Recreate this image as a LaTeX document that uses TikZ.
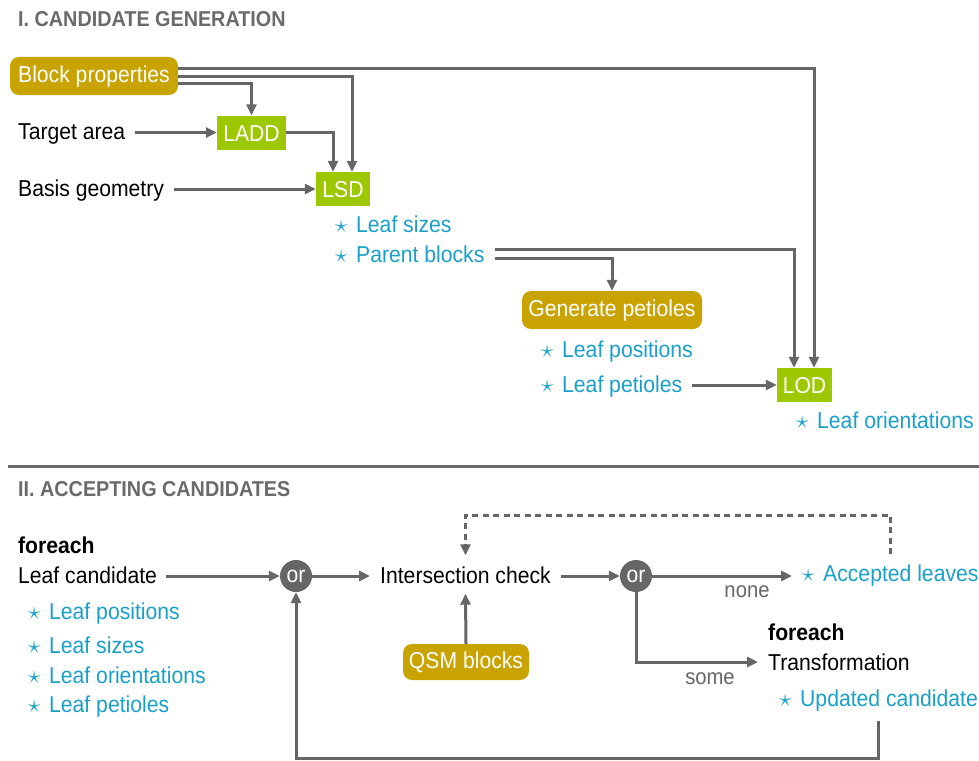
\documentclass[tikz,border=0pt]{standalone}
\usepackage{fontspec}
\setmainfont{Liberation Sans}[FakeStretch=0.92]
\usetikzlibrary{arrows.meta}
\definecolor{gold}{HTML}{C9A300}
\definecolor{lime}{HTML}{9DC700}
\definecolor{sky}{HTML}{1AA0C8}
\definecolor{ln}{HTML}{666666}
\definecolor{hd}{HTML}{6A6A6A}
\newcommand\mainfs{\fontsize{23}{26}\selectfont}
\newcommand\st{\makebox[21pt][l]{$\star$}}
\begin{document}
\begin{tikzpicture}[x=1pt,y=-1pt,
  txt/.style={anchor=west,inner sep=0pt,text height=17pt,text depth=0pt,font=\mainfs},
  item/.style={txt,text=sky},
  bold/.style={txt,font=\mainfs\bfseries},
  head/.style={anchor=west,inner sep=0pt,text height=16pt,text depth=0pt,font=\fontsize{21.5}{24}\selectfont\bfseries,text=hd},
  goldbox/.style={fill=gold,rounded corners=9pt,text=white,font=\mainfs,inner sep=0pt,text height=17pt,text depth=5pt,minimum height=38pt},
  greenbox/.style={fill=lime,text=white,font=\mainfs,inner sep=0pt,text height=17pt,text depth=0pt,minimum height=34pt},
  orc/.style={circle,fill=ln,text=white,minimum size=32pt,inner sep=0pt,font=\mainfs},
  lbl/.style={anchor=base,inner sep=0pt,text=ln,font=\fontsize{22}{24}\selectfont},
  arr/.style={draw=ln,line width=3pt,-{Triangle[length=11pt,width=10pt]}},
  dasharr/.style={arr,dash pattern=on 6pt off 4.5pt}
]
\useasboundingbox (0,0) rectangle (979,760);
% ---------- Section I ----------
\node[head] (h1) at (18,19) {I. CANDIDATE GENERATION};
\node[goldbox,minimum width=168pt] (bp) at (94,76) {Block properties};
\node[txt] (ta) at (18,131) {Target area};
\node[greenbox,minimum width=69pt] (ladd) at (251.5,132.5) {LADD};
\node[txt] (bg) at (18,188) {Basis geometry};
\node[greenbox,minimum width=54pt] (lsd) at (343,189) {LSD};
\node[item] (ls1) at (335,224) {\st Leaf sizes};
\node[item] (pb) at (335,254) {\st Parent blocks};
\node[goldbox,minimum width=180pt] (gen) at (612,310) {Generate petioles};
\node[item] (lp1) at (541,349) {\st Leaf positions};
\node[item] (lpt1) at (541,384) {\st Leaf petioles};
\node[greenbox,minimum width=55pt] (lod) at (804.5,385) {LOD};
\node[item] (lo1) at (796,420) {\st Leaf orientations};

\draw[arr] ([yshift=-7pt]bp.east) -| (ladd.north);
\draw[arr] (bp.east) -| ([xshift=9pt]lsd.north);
\draw[arr] ([yshift=8pt]bp.east) -| ([xshift=9.5pt]lod.north);
\draw[arr] ([xshift=10pt]ta.east |- ladd.west) -- (ladd.west);
\draw[arr] (ladd.east) -| ([xshift=-10pt]lsd.north);
\draw[arr] ([xshift=10pt]bg.east |- lsd.west) -- (lsd.west);
\draw[arr] ([xshift=10pt,yshift=-4pt]pb.east) -| (gen.north);
\draw[arr] ([xshift=10pt,yshift=5pt]pb.east) -| ([xshift=-10.5pt]lod.north);
\draw[arr] ([xshift=10pt]lpt1.east |- lod.west) -- (lod.west);

% separator
\draw[draw=hd,line width=3pt] (8,466) -- (979,466);

% ---------- Section II ----------
\node[head] (h2) at (18,488) {II. ACCEPTING CANDIDATES};
\node[bold] (fe1) at (18,545) {foreach};
\node[txt] (lc) at (18,575) {Leaf candidate};
\node[item] (i1) at (28,611) {\st Leaf positions};
\node[item] (i2) at (28,645) {\st Leaf sizes};
\node[item] (i3) at (28,675) {\st Leaf orientations};
\node[item] (i4) at (28,704) {\st Leaf petioles};
\node[orc] (or1) at (296,576) {or};
\node[txt] (ic) at (380,575) {Intersection check};
\node[goldbox,minimum width=126pt,minimum height=36pt] (qsm) at (466,662) {QSM blocks};
\node[orc] (or2) at (636,576) {or};
\node[item] (acc) at (802,573) {\st Accepted leaves};
\node[lbl] (none) at (747,597) {none};
\node[lbl] (some) at (710,684) {some};
\node[bold] (fe2) at (768,632) {foreach};
\node[txt] (tr) at (768,662) {Transformation};
\node[item] (uc) at (779,698) {\st Updated candidate};
\coordinate (dtop) at (0,515);
\coordinate (bot) at (0,758);

\draw[arr] ([xshift=9pt]lc.east |- or1.west) -- (or1.west);
\draw[arr] (or1.east) -- ([xshift=-10pt]ic.west |- or1.east);
\draw[arr] ([xshift=10pt]ic.east |- or2.west) -- (or2.west);
\draw[arr] (or2.east) -- ([xshift=-10pt]acc.west |- or2.east);
\draw[arr] (or2.south) |- ([xshift=-10pt]tr.west);
\draw[arr] (qsm.north) -- ([yshift=-10pt]ic.south);
\draw[dasharr] ([yshift=10pt]acc.north) -- (acc.north |- dtop) -| ([yshift=11pt]ic.north);
\draw[arr] ([yshift=-14pt]uc.south) -- (uc.south |- bot) -| (or1.south);
\end{tikzpicture}
\end{document}
